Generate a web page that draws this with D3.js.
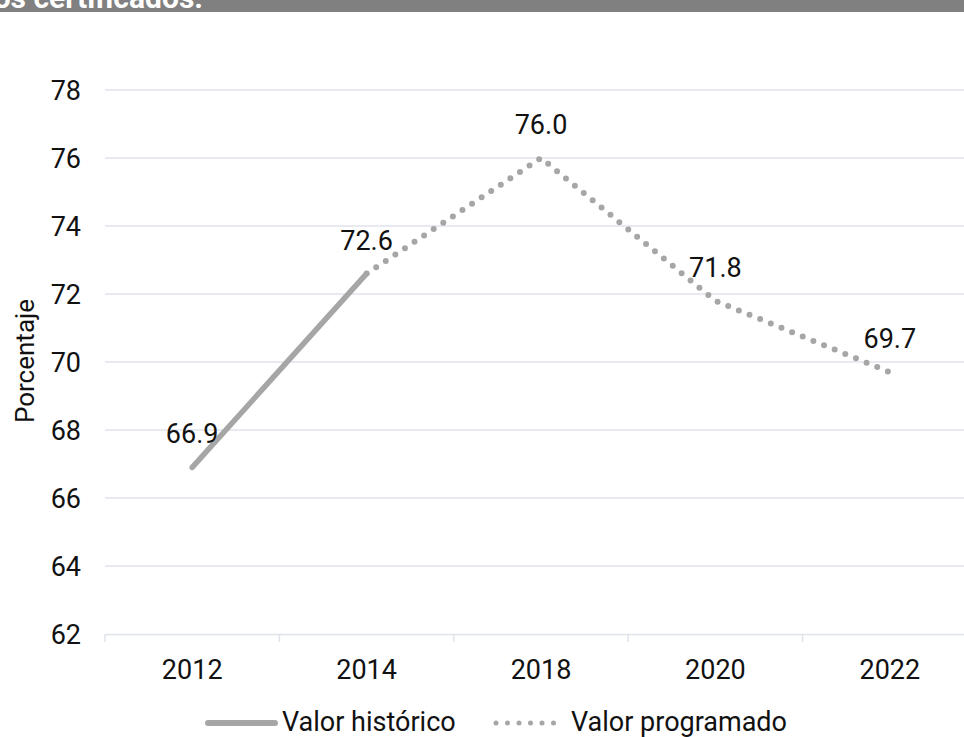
<!DOCTYPE html>
<html><head><meta charset="utf-8">
<script src="https://cdn.jsdelivr.net/npm/d3@7/dist/d3.min.js"></script>
<style>body{margin:0;background:#fff}svg{display:block}text{font-family:Roboto,"Noto Sans",sans-serif}</style>
</head><body>
<script>
const categories = ["2012","2014","2018","2020","2022"];
const historico = [66.9, 72.6, null, null, null];
const programado = [null, 72.6, 76.0, 71.8, 69.7];
const labels = [66.9, 72.6, 76.0, 71.8, 69.7];
const yTicks = [62,64,66,68,70,72,74,76,78];
const titleText = "tos certificados.";

const W = 964, H = 737;
const svg = d3.select("body").append("svg").attr("width", W).attr("height", H);

// banner
svg.append("rect").attr("x",0).attr("y",0).attr("width",W).attr("height",12).attr("fill","#808080");
svg.append("text").attr("x",203).attr("y",8).attr("text-anchor","end")
  .attr("font-size",30).attr("font-weight","bold").attr("fill","#fff").text(titleText);

const x = d3.scaleBand().domain(categories).range([105, 977]).padding(0);
const y = d3.scaleLinear().domain([62, 78]).range([634, 90]);
const gridColor = "#dfe3eb";

// gridlines
svg.append("g").selectAll("line").data(yTicks.filter(t => t !== 62)).join("line")
  .attr("x1",105).attr("x2",977).attr("y1",d=>y(d)).attr("y2",d=>y(d))
  .attr("stroke",gridColor).attr("stroke-width",1.5);

// x axis
const xAxis = svg.append("g").attr("transform","translate(0,634)")
  .call(d3.axisBottom(x).tickSize(0).tickPadding(26));
xAxis.select(".domain").attr("stroke",gridColor).attr("stroke-width",1.5);
xAxis.selectAll("text").attr("font-size",27).attr("fill","#111");
// band boundary ticks
const bounds = categories.map(c => x(c)).concat([x(categories[categories.length-1]) + x.bandwidth()]);
svg.append("g").selectAll("line").data(bounds).join("line")
  .attr("x1",d=>d).attr("x2",d=>d).attr("y1",634).attr("y2",642)
  .attr("stroke",gridColor).attr("stroke-width",1.5);

// y axis
const yAxis = svg.append("g").attr("transform","translate(81,0)")
  .call(d3.axisLeft(y).tickValues(yTicks).tickSize(0).tickPadding(0));
yAxis.select(".domain").remove();
yAxis.selectAll("text").attr("font-size",27).attr("fill","#111").attr("dy","0.35em");

svg.append("text").attr("transform","translate(34,361) rotate(-90)")
  .attr("text-anchor","middle").attr("font-size",26).attr("fill","#111").text("Porcentaje");

const cx = c => x(c) + x.bandwidth()/2;
const line = d3.line().defined(d => d.v !== null).x(d => cx(d.c)).y(d => y(d.v));

const histData = categories.map((c,i)=>({c, v: historico[i]}));
const progData = categories.map((c,i)=>({c, v: programado[i]}));

svg.append("path").datum(progData).attr("d", line).attr("fill","none")
  .attr("stroke","#a6a6a6").attr("stroke-width",6).attr("stroke-linecap","round")
  .attr("stroke-dasharray","0 11.5");
svg.append("path").datum(histData).attr("d", line).attr("fill","none")
  .attr("stroke","#a6a6a6").attr("stroke-width",5.5).attr("stroke-linecap","round");

// data labels
svg.append("g").selectAll("text").data(categories).join("text")
  .attr("x", c => cx(c)).attr("y", (c,i) => y(labels[i]) - 24)
  .attr("text-anchor","middle").attr("font-size",27).attr("fill","#111")
  .text((c,i) => labels[i].toFixed(1));

// legend
const lg = svg.append("g");
lg.append("line").attr("x1",208).attr("x2",275).attr("y1",723).attr("y2",723)
  .attr("stroke","#a6a6a6").attr("stroke-width",6).attr("stroke-linecap","round");
lg.append("text").attr("x",282).attr("y",731).attr("font-size",27).attr("fill","#111").text("Valor histórico");
lg.append("line").attr("x1",496).attr("x2",556).attr("y1",723).attr("y2",723)
  .attr("stroke","#a6a6a6").attr("stroke-width",5).attr("stroke-linecap","round")
  .attr("stroke-dasharray","0 11.5");
lg.append("text").attr("x",571).attr("y",731).attr("font-size",27).attr("fill","#111").text("Valor programado");
</script>
</body></html>
